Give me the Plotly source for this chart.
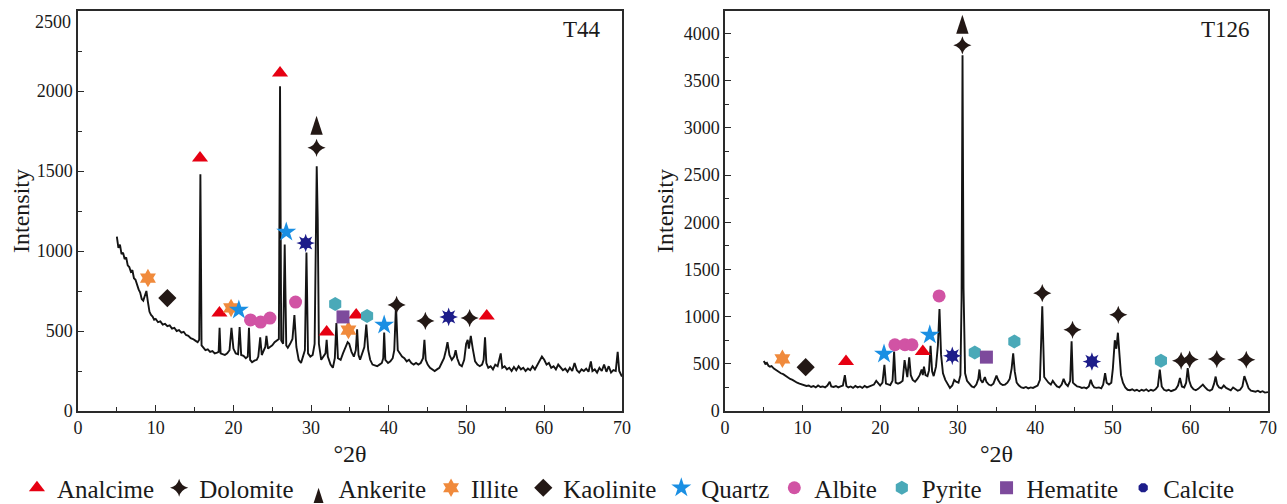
import plotly.graph_objects as go

# ---------------- data: T44 pattern (2theta, intensity) ----------------
t44_2theta = [5.0, 5.2, 5.4, 5.6, 5.8, 6.0, 6.2, 6.4, 6.6, 6.8, 7.0, 7.2, 7.4, 7.6, 7.8, 8.0, 8.2, 8.4, 8.6, 8.8,
              9.0, 9.2, 9.4, 9.6, 9.8, 10.0, 10.3, 10.6, 10.9, 11.2, 11.5, 11.8, 12.1, 12.4, 12.7, 13.0, 13.3, 13.6, 13.9, 14.2,
              14.5, 14.8, 15.1, 15.4, 15.6, 15.75, 15.9, 16.1, 16.4, 16.7, 17.0, 17.3, 17.6, 17.9, 18.1, 18.22, 18.35, 18.6, 18.9, 19.2,
              19.5, 19.75, 20.0, 20.3, 20.6, 20.8, 21.0, 21.3, 21.6, 21.85, 22.0, 22.15, 22.4, 22.7, 23.0, 23.2, 23.45, 23.65, 23.9, 24.1,
              24.25, 24.45, 24.7, 25.0, 25.3, 25.6, 25.85, 26.0, 26.15, 26.4, 26.6, 26.8, 27.0, 27.3, 27.6, 27.85, 28.1, 28.4, 28.7, 28.95,
              29.2, 29.4, 29.6, 29.9, 30.2, 30.45, 30.6, 30.72, 30.85, 31.0, 31.3, 31.6, 31.85, 32.0, 32.15, 32.5, 32.8, 33.05, 33.25, 33.45,
              33.8, 34.1, 34.4, 34.7, 34.9, 35.2, 35.5, 35.75, 35.92, 36.1, 36.3, 36.6, 36.85, 37.1, 37.35, 37.6, 37.9, 38.2, 38.5, 38.8,
              39.1, 39.28, 39.4, 39.55, 39.9, 40.2, 40.5, 40.7, 40.92, 41.15, 41.4, 41.7, 42.0, 42.3, 42.6, 42.9, 43.2, 43.5, 43.8, 44.1,
              44.4, 44.58, 44.75, 45.0, 45.3, 45.6, 45.9, 46.2, 46.5, 46.8, 47.1, 47.35, 47.55, 47.8, 48.1, 48.4, 48.6, 48.8, 49.1, 49.4,
              49.7, 49.95, 50.15, 50.3, 50.55, 50.8, 51.1, 51.4, 51.7, 52.0, 52.2, 52.38, 52.55, 52.8, 53.1, 53.4, 53.7, 54.0, 54.4, 54.6,
              54.9, 55.2, 55.5, 55.8, 56.1, 56.4, 56.7, 57.0, 57.3, 57.6, 57.9, 58.2, 58.5, 58.8, 59.1, 59.4, 59.7, 60.0, 60.3, 60.6,
              60.9, 61.2, 61.5, 61.8, 62.1, 62.4, 62.7, 63.0, 63.3, 63.6, 63.9, 64.2, 64.5, 64.8, 65.1, 65.4, 65.7, 66.0, 66.2, 66.5,
              66.8, 67.1, 67.4, 67.7, 68.0, 68.3, 68.6, 68.9, 69.2, 69.45, 69.65, 70.0]
t44_intensity = [1090, 1020, 1040, 980, 990, 950, 960, 910, 900, 870, 880, 830, 820, 780, 760, 740, 700, 690, 720, 750,
                 680, 620, 600, 590, 570, 575, 555, 560, 540, 545, 530, 535, 515, 520, 500, 505, 490, 495, 475, 470,
                 455, 450, 440, 430, 445, 1480, 410, 395, 380, 385, 370, 375, 360, 365, 370, 520, 360, 355, 350, 360,
                 380, 520, 390, 360, 355, 525, 350, 345, 330, 340, 520, 320, 305, 315, 320, 340, 460, 350, 380, 400,
                 470, 390, 400, 410, 430, 440, 450, 2030, 440, 420, 1040, 410, 395, 420, 450, 600, 400, 320, 300, 340,
                 380, 990, 360, 340, 350, 420, 1150, 1530, 1200, 420, 320, 340, 360, 445, 340, 290, 270, 330, 550, 330,
                 320, 360, 400, 430, 420, 370, 340, 380, 510, 350, 320, 360, 400, 540, 380, 320, 290, 285, 280, 290,
                 300, 330, 490, 320, 300, 310, 330, 380, 660, 380, 360, 340, 330, 310, 320, 300, 290, 300, 290, 300,
                 330, 445, 320, 290, 270, 260, 250, 260, 270, 300, 330, 380, 430, 350, 320, 340, 380, 330, 290, 280,
                 320, 420, 445, 390, 470, 390, 310, 290, 280, 290, 320, 460, 300, 270, 280, 260, 290, 280, 360, 270,
                 280, 260, 270, 250, 275, 255, 280, 260, 270, 250, 265, 255, 280, 260, 290, 310, 340, 320, 290, 300,
                 270, 280, 260, 290, 270, 255, 265, 245, 270, 250, 300, 255, 240, 260, 250, 265, 245, 310, 250, 260,
                 240, 270, 250, 290, 245, 280, 240, 255, 250, 370, 250, 215]

# ---------------- data: T126 pattern ----------------
t126_2theta = [5.0, 5.2, 5.4, 5.6, 5.8, 6.0, 6.3, 6.6, 6.9, 7.2, 7.5, 7.8, 8.1, 8.4, 8.7, 9.0, 9.3, 9.6, 9.9, 10.2,
               10.5, 10.8, 11.1, 11.4, 11.7, 12.0, 12.3, 12.6, 12.9, 13.2, 13.5, 13.7, 14.0, 14.3, 14.6, 14.9, 15.2, 15.45, 15.65, 15.9,
               16.2, 16.5, 16.8, 17.1, 17.4, 17.7, 18.0, 18.3, 18.6, 18.9, 19.2, 19.5, 19.75, 20.0, 20.3, 20.55, 20.75, 21.0, 21.3, 21.6,
               21.8, 22.0, 22.3, 22.6, 22.9, 23.15, 23.35, 23.5, 23.75, 23.95, 24.2, 24.5, 24.8, 25.1, 25.35, 25.5, 25.65, 25.85, 26.1, 26.3,
               26.5, 26.7, 26.9, 27.2, 27.45, 27.65, 27.85, 28.1, 28.4, 28.7, 29.0, 29.3, 29.55, 29.8, 30.1, 30.35, 30.5, 30.62, 30.75, 30.95,
               31.2, 31.5, 31.8, 32.1, 32.4, 32.65, 32.8, 32.95, 33.2, 33.5, 33.7, 34.0, 34.3, 34.6, 34.85, 35.0, 35.2, 35.5, 35.8, 36.1,
               36.4, 36.7, 36.95, 37.15, 37.35, 37.6, 37.9, 38.2, 38.5, 38.8, 39.1, 39.4, 39.7, 40.0, 40.3, 40.6, 40.9, 41.15, 41.4, 41.7,
               42.0, 42.25, 42.5, 42.8, 43.1, 43.4, 43.65, 43.9, 44.2, 44.5, 44.68, 44.85, 45.1, 45.4, 45.7, 46.0, 46.3, 46.6, 46.9, 47.15,
               47.35, 47.6, 47.9, 48.2, 48.5, 48.75, 49.0, 49.2, 49.5, 49.8, 50.0, 50.25, 50.45, 50.65, 50.85, 51.05, 51.3, 51.6, 51.9, 52.2,
               52.5, 52.8, 53.1, 53.4, 53.7, 54.0, 54.3, 54.6, 54.9, 55.2, 55.5, 55.8, 56.05, 56.3, 56.6, 56.9, 57.2, 57.5, 57.8, 58.1,
               58.4, 58.65, 58.9, 59.2, 59.45, 59.65, 59.85, 60.1, 60.4, 60.7, 61.0, 61.3, 61.6, 61.9, 62.2, 62.5, 62.8, 63.05, 63.25, 63.45,
               63.7, 64.0, 64.3, 64.6, 64.9, 65.2, 65.5, 65.8, 66.1, 66.4, 66.7, 66.95, 67.2, 67.5, 67.8, 68.1, 68.4, 68.7, 69.0, 69.3,
               69.6, 70.0]
t126_intensity = [530, 500, 510, 480, 470, 475, 450, 430, 420, 400, 390, 370, 360, 340, 330, 310, 300, 290, 280, 275,
                  265, 270, 255, 265, 250, 270, 255, 260, 250, 270, 310, 260, 255, 265, 250, 260, 270, 380, 265, 250,
                  260, 245, 265, 250, 260, 245, 265, 250, 260, 270, 280, 320, 290, 270, 300, 490, 290, 280, 275, 320,
                  630, 300, 290, 300, 320, 540, 400, 360, 570, 380, 330, 310, 340, 380, 440, 380, 470, 380, 370, 430,
                  690, 420, 370, 470, 700, 1080, 600, 400, 330, 280, 245, 270, 330, 310, 300, 380, 1200, 3770, 1300, 400,
                  320, 290, 260, 250, 280, 340, 440, 330, 300, 360, 310, 280, 270, 290, 340, 375, 330, 290, 275, 280,
                  300, 340, 450, 610, 420, 300, 270, 250, 245, 255, 240, 250, 245, 255, 270, 330, 1110, 360, 330, 300,
                  280, 320, 290, 260, 250, 280, 340, 290, 265, 320, 740, 300, 280, 260, 255, 245, 250, 240, 260, 330,
                  280, 250, 245, 250, 240, 280, 400, 300, 280, 300, 450, 750, 660, 830, 600, 380, 300, 250, 225, 220,
                  230, 215, 225, 210, 225, 215, 230, 210, 225, 215, 230, 260, 440, 260, 225, 215, 225, 210, 220, 230,
                  270, 350, 260, 250, 300, 455, 320, 260, 230, 220, 235, 260, 280, 250, 225, 215, 230, 290, 365, 280,
                  250, 240, 270, 245, 230, 220, 250, 230, 215, 225, 260, 370, 300, 240, 215, 210, 205, 215, 200, 210,
                  195, 200]

# ---------------- phase marker positions ----------------
phases = ["Analcime", "Dolomite", "Ankerite", "Illite", "Kaolinite", "Quartz", "Albite", "Pyrite", "Hematite", "Calcite"]

t44_marks = {
    "Analcime": ([15.7, 18.2, 26.0, 32.0, 35.8, 52.6], [1581, 612, 2112, 494, 600, 594]),
    "Dolomite": ([30.7, 41.0, 44.7, 50.4], [1645, 663, 563, 581]),
    "Ankerite": ([30.7], [1845]),
    "Illite": ([9.0, 19.7, 34.8], [831, 644, 506]),
    "Kaolinite": ([11.5], [706]),
    "Quartz": ([20.7, 26.8, 39.4], [631, 1119, 538]),
    "Albite": ([22.2, 23.5, 24.7, 28.0], [569, 556, 581, 681]),
    "Pyrite": ([33.1, 37.2], [669, 594]),
    "Hematite": ([34.1], [588]),
    "Calcite": ([29.3, 47.7], [1050, 588]),
}
t126_marks = {
    "Analcime": ([15.6, 25.5], [525, 631]),
    "Dolomite": ([30.6, 40.9, 44.8, 50.7, 58.8, 59.9, 63.4, 67.2], [3876, 1249, 860, 1019, 532, 546, 550, 543]),
    "Ankerite": ([30.6], [4200]),
    "Illite": ([7.4], [553]),
    "Kaolinite": ([10.4], [465]),
    "Quartz": ([20.5, 26.4], [603, 807]),
    "Albite": ([21.9, 23.2, 24.1, 27.6], [702, 702, 702, 1220]),
    "Pyrite": ([32.2, 37.3, 56.2], [620, 737, 532]),
    "Hematite": ([33.7], [571]),
    "Calcite": ([29.3, 47.3], [585, 525]),
}

t44_yticks = [0, 500, 1000, 1500, 2000, 2500]
t126_yticks = [0, 500, 1000, 1500, 2000, 2500, 3000, 3500, 4000]

styles = {
    "Analcime": dict(symbol="triangle-up", color="#e60012", size=14),
    "Dolomite": dict(symbol="star-diamond", color="#231815", size=13),
    "Ankerite": dict(symbol="arrow", color="#231815", size=20),
    "Illite": dict(symbol="hexagram", color="#f08a3c", size=14),
    "Kaolinite": dict(symbol="diamond", color="#231815", size=14),
    "Quartz": dict(symbol="star", color="#1a8fe3", size=15),
    "Albite": dict(symbol="circle", color="#d153a4", size=13),
    "Pyrite": dict(symbol="hexagon", color="#4aa9b8", size=14),
    "Hematite": dict(symbol="square", color="#7d4a9c", size=13),
    "Calcite": dict(symbol="octagon", color="#1d1d8a", size=10),
}

SERIF = "Liberation Serif, Times New Roman, DejaVu Serif, serif"
fig = go.Figure()

fig.add_trace(go.Scatter(x=t44_2theta, y=t44_intensity, mode="lines",
                         line=dict(color="#141414", width=1.9), showlegend=False, xaxis="x", yaxis="y"))
fig.add_trace(go.Scatter(x=t126_2theta, y=t126_intensity, mode="lines",
                         line=dict(color="#141414", width=1.9), showlegend=False, xaxis="x2", yaxis="y2"))

for name in phases:
    st = styles[name]
    for k, (marks, xa, ya) in enumerate([(t44_marks, "x", "y"), (t126_marks, "x2", "y2")]):
        xs, ys = marks[name]
        fig.add_trace(go.Scatter(
            x=xs, y=ys, mode="markers", name=name, legendgroup=name,
            showlegend=(k == 0), xaxis=xa, yaxis=ya,
            marker=dict(symbol=st["symbol"], color=st["color"], size=st["size"], line=dict(width=0)),
        ))
        if name == "Calcite":
            for ang in (0, 45):
                fig.add_trace(go.Scatter(
                    x=xs, y=ys, mode="markers", legendgroup=name, showlegend=False,
                    xaxis=xa, yaxis=ya,
                    marker=dict(symbol="star-square", angle=ang, color=st["color"], size=12, line=dict(width=0)),
                ))

axis_common = dict(
    showline=True, mirror=True, linecolor="#2a2a2a", linewidth=1.5,
    ticks="inside", ticklen=6, tickwidth=1.3, tickcolor="#2a2a2a",
    showgrid=False, zeroline=False,
    tickfont=dict(family=SERIF, size=18, color="#1a1a1a"),
)
xa_common = dict(axis_common, range=[0, 70], dtick=10, tick0=0,
                 minor=dict(ticks="inside", ticklen=4, dtick=5, tickcolor="#2a2a2a", tickwidth=1.1),
                 title=dict(text="°2θ", font=dict(family=SERIF, size=24, color="#1a1a1a"), standoff=8))
ya_title = dict(text="Intensity", font=dict(family=SERIF, size=24, color="#1a1a1a"), standoff=3)
minor_y = dict(ticks="inside", ticklen=4, dtick=250, tickcolor="#2a2a2a", tickwidth=1.1)

# the top tick label of the left panel sits at the frame edge; draw it just below the edge
top_label = t44_yticks[-1]

# page has an 8px body margin, so the figure is 8px smaller than the window
fig.update_layout(
    width=1279, height=496,
    margin=dict(l=70, r=19, t=3, b=93, autoexpand=False),
    paper_bgcolor="white", plot_bgcolor="white",
    xaxis=dict(xa_common, domain=[0, 0.4571], anchor="y"),
    yaxis=dict(axis_common, range=[0, 2500], tickmode="array", tickvals=t44_yticks[:-1],
               anchor="x", title=ya_title, minor=minor_y),
    xaxis2=dict(xa_common, domain=[0.5437, 1], anchor="y2"),
    yaxis2=dict(axis_common, range=[0, 4240], tickmode="array", tickvals=t126_yticks,
                anchor="x2", title=ya_title, minor=minor_y),
    legend=dict(orientation="h", x=-0.0513, xanchor="left", y=-0.1925, yanchor="middle",
                font=dict(family=SERIF, size=25, color="#1a1a1a"), bgcolor="rgba(0,0,0,0)",
                itemwidth=30, tracegroupgap=0),
    annotations=[
        dict(text="T44", xref="x domain", yref="y domain", x=0.965, y=0.955, xanchor="right", yanchor="middle",
             showarrow=False, font=dict(family=SERIF, size=23, color="#1a1a1a")),
        dict(text="T126", xref="x2 domain", yref="y2 domain", x=0.97, y=0.955, xanchor="right", yanchor="middle",
             showarrow=False, font=dict(family=SERIF, size=23, color="#1a1a1a")),
        dict(text=str(top_label), xref="x domain", yref="y", x=0, y=top_label, xanchor="right", yanchor="top",
             xshift=-5, yshift=1, showarrow=False, font=dict(family=SERIF, size=18, color="#1a1a1a")),
    ],
    hovermode=False,
)

fig.write_html("out.html")
